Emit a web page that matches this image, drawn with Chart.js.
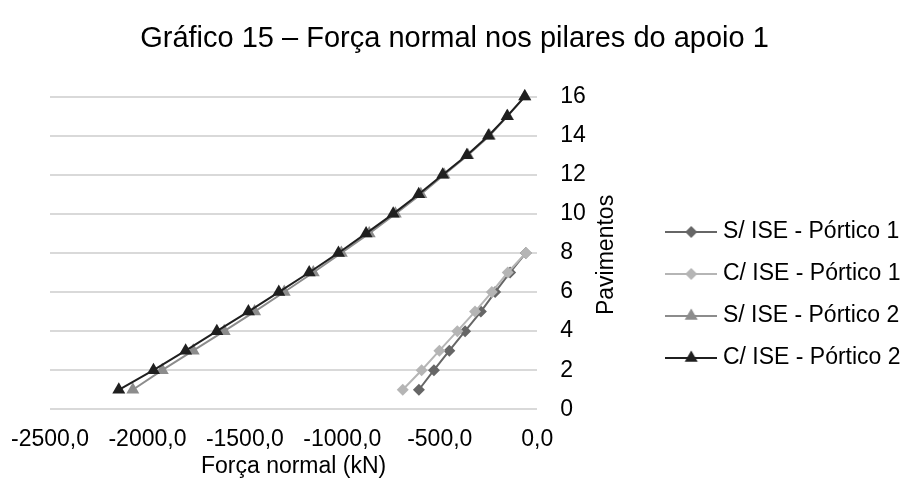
<!DOCTYPE html>
<html>
<head>
<meta charset="utf-8">
<script src="https://cdn.jsdelivr.net/npm/chart.js@4/dist/chart.umd.min.js"></script>
<style>
  html, body { margin: 0; padding: 0; background: #fff; overflow: hidden; }
</style>
</head>
<body>
<canvas id="c" width="909" height="486"></canvas>
<script>
// ---- Data ----
const chartTitle = 'Gráfico 15 – Força normal nos pilares do apoio 1';
const xAxisTitle = 'Força normal (kN)';
const yAxisTitle = 'Pavimentos';
const seriesNames = ['S/ ISE - Pórtico 1', 'C/ ISE - Pórtico 1', 'S/ ISE - Pórtico 2', 'C/ ISE - Pórtico 2'];

const floorsP1 = [1, 2, 3, 4, 5, 6, 7, 8];
const floorsP2 = [1, 2, 3, 4, 5, 6, 7, 8, 9, 10, 11, 12, 13, 14, 15, 16];

const sIsePortico1 = [-607, -530, -451, -370, -289, -216, -139, -58];
const cIsePortico1 = [-690, -593, -502, -410, -319, -233, -151, -58];
const sIsePortico2 = [-2075, -1924, -1765, -1606, -1450, -1298, -1149, -1005, -862, -728, -597, -478, -356, -245, -152, -63];
const cIsePortico2 = [-2147, -1969, -1804, -1644, -1482, -1326, -1170, -1020, -878, -739, -608, -485, -361, -250, -154, -64];

const xMin = -2500, xMax = 0, xStep = 500;
const yMin = 0, yMax = 16, yStep = 2;

// ---- Styles ----
const colors = ['#666666', '#b5b5b5', '#8c8c8c', '#1f1f1f'];
const markers = ['rectRot', 'rectRot', 'triangle', 'triangle'];
const radii = [6, 6, 7.5, 7.5];
const FONT = 'Liberation Sans, Arial, sans-serif';
const TXT = 23;

function pts(xs, ys) { return ys.map((y, i) => ({ x: xs[i], y: y })); }
const seriesData = [
  pts(sIsePortico1, floorsP1),
  pts(cIsePortico1, floorsP1),
  pts(sIsePortico2, floorsP2),
  pts(cIsePortico2, floorsP2)
];

// legend symbols: a line with the marker in the middle
function legendSymbol(color, style, r) {
  const w = 52, h = 18, cx = w / 2, cy = h / 2;
  const cv = document.createElement('canvas');
  cv.width = w; cv.height = h;
  const g = cv.getContext('2d');
  g.strokeStyle = color; g.lineWidth = 2;
  g.beginPath(); g.moveTo(0, cy); g.lineTo(w, cy); g.stroke();
  g.fillStyle = color;
  g.beginPath();
  if (style === 'rectRot') {
    g.moveTo(cx, cy - r); g.lineTo(cx + r, cy); g.lineTo(cx, cy + r); g.lineTo(cx - r, cy);
  } else {
    g.moveTo(cx, cy - r); g.lineTo(cx + r * 0.866, cy + r * 0.5); g.lineTo(cx - r * 0.866, cy + r * 0.5);
  }
  g.closePath(); g.fill();
  return cv;
}
const legendImgs = colors.map((c, i) => legendSymbol(c, markers[i], radii[i]));

const datasets = seriesNames.map((name, i) => ({
  label: name,
  data: seriesData[i],
  xAxisID: 'x',
  yAxisID: 'y',
  showLine: true,
  clip: false,
  borderColor: colors[i],
  backgroundColor: colors[i],
  borderWidth: 2,
  pointStyle: markers[i],
  pointRadius: radii[i],
  pointBorderWidth: 0,
  pointBackgroundColor: colors[i],
  order: seriesNames.length - 1 - i
}));

const LEGEND_W = 253;
const LEGEND_TOP = 201.5;
const layoutTweaks = {
  id: 'layoutTweaks',
  afterInit(chart) {
    const lg = chart.legend;
    if (lg) {
      const f = lg.fit;
      lg.fit = function () { f.call(this); this.width = LEGEND_W; };
    }
  },
  afterLayout(chart) {
    const lg = chart.legend;
    if (!lg) return;
    const h = lg.bottom - lg.top;
    lg.top = LEGEND_TOP;
    lg.bottom = lg.top + h;
  },
  afterDraw(chart) {
    const ca = chart.chartArea, ctx = chart.ctx;
    ctx.save();
    ctx.translate(ca.right + 69, (ca.top + ca.bottom) / 2 + 2);
    ctx.rotate(-Math.PI / 2);
    ctx.textAlign = 'center';
    ctx.textBaseline = 'middle';
    ctx.fillStyle = '#000';
    ctx.font = TXT + 'px ' + FONT;
    ctx.fillText(yAxisTitle, 0, 0);
    ctx.restore();
  }
};

new Chart(document.getElementById('c'), {
  type: 'scatter',
  data: { datasets },
  plugins: [layoutTweaks],
  options: {
    responsive: false,
    devicePixelRatio: 1,
    animation: false,
    layout: { autoPadding: false, padding: { left: 4, right: 4, top: 0, bottom: 4 } },
    plugins: {
      title: {
        display: true,
        text: chartTitle,
        color: '#000',
        font: { family: FONT, size: 29, weight: 'normal' },
        padding: { top: 22, bottom: 39.8 }
      },
      legend: {
        position: 'right',
        align: 'start',
        labels: {
          color: '#000',
          font: { family: FONT, size: TXT },
          usePointStyle: true,
          pointStyleWidth: 40.4,
          padding: 19,
          sort: (a, b) => a.datasetIndex - b.datasetIndex,
          generateLabels(chart) {
            const items = Chart.defaults.plugins.legend.labels.generateLabels(chart);
            items.forEach(it => { it.pointStyle = legendImgs[it.datasetIndex]; });
            return items;
          }
        }
      },
      tooltip: { enabled: false }
    },
    scales: {
      x: {
        type: 'linear',
        min: xMin, max: xMax,
        grid: { display: false, drawTicks: false },
        border: { display: false },
        ticks: {
          stepSize: xStep,
          color: '#000',
          padding: 3,
          font: { family: FONT, size: TXT, lineHeight: 2.4 },
          maxRotation: 0,
          callback: v => v.toFixed(1).replace('.', ',')
        },
        title: {
          display: true, text: xAxisTitle, color: '#000',
          font: { family: FONT, size: TXT },
          padding: { top: 0, bottom: 2 }
        },
        afterFit: s => { s.height = 72.7; }
      },
      y: {
        type: 'linear',
        position: 'right',
        min: yMin, max: yMax,
        grid: { color: '#d9d9d9', lineWidth: 2, drawTicks: false },
        border: { display: false },
        ticks: {
          stepSize: yStep,
          color: '#000',
          padding: 23,
          font: { family: FONT, size: TXT }
        },
        afterFit: s => { s.width = 114.8; }
      },
      yPad: {
        type: 'linear',
        position: 'left',
        display: true,
        grid: { display: false, drawTicks: false },
        border: { display: false },
        ticks: { display: false },
        afterFit: s => { s.width = 46; }
      }
    }
  }
});
</script>
</body>
</html>
